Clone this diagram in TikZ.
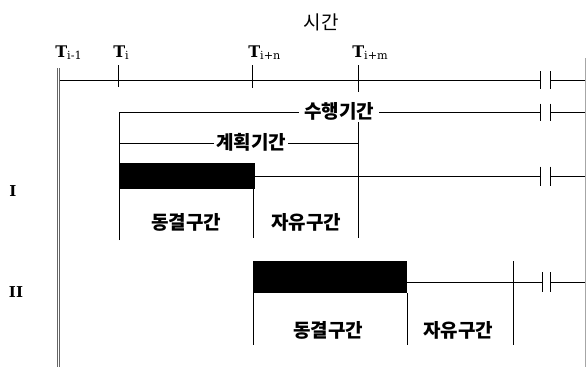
\documentclass[tikz,border=0pt]{standalone}
\usepackage{fontspec}
\newfontfamily\kr{Noto Sans CJK KR}
\newfontfamily\tser{DejaVu Serif}
\usetikzlibrary{positioning, calc}

\tikzset{
  kor/.style={font=\kr\bfseries\fontsize{19}{21}\selectfont, inner sep=1pt},
  gap/.style={inner xsep=5pt},
  tlab/.style={font=\tser\bfseries\fontsize{16}{18}\selectfont, inner sep=0pt, anchor=base west},
  rowlab/.style={font=\tser\bfseries\fontsize{15}{17}\selectfont, inner sep=0pt},
  thin line/.style={line width=0.6pt},
  brk/.style={line width=1pt}
}
\newcommand{\tsub}[1]{\textsubscript{\mdseries #1}}

\begin{document}
\begin{tikzpicture}[x=1pt, y=-1pt, thin line]
      \useasboundingbox (0, 0) rectangle (586, 367);

      % title and time points
      \node[kor, font=\kr\fontsize{19}{21}\selectfont] (title) at (321, 22) {시간};
      \node[tlab] (t0) at (55, 57) {T\tsub{i-1}};
      \node[tlab] (t1) at (113, 57) {T\tsub{i}};
      \node[tlab] (tn) at (248, 57) {T\tsub{i+n}};
      \node[tlab] (tm) at (352, 57) {T\tsub{i+m}};

      % left double line and right border
      \draw[gray!80!black] (57, 68) -- (57, 367);
      \draw[gray!80!black] (59.5, 68) -- (59.5, 367);
      \draw[gray!70, line width=0.4pt] (585, 58) -- (585, 367);

      % time axis
      \draw (59.5, 80) -- (540, 80);
      \draw (550, 80) -- (585, 80);
      \draw (118, 65) -- (118, 87);
      \draw (252, 65) -- (252, 88);
      \draw (358, 65) -- (358, 92);

      % breaks
      \foreach \y/\h in {80/9, 112/8.5, 176/9.5} {
        \draw[brk] (540, \y-\h) -- (540, \y+\h);
        \draw[brk] (550, \y-\h) -- (550, \y+\h);
      }
      \draw[brk] (542, 272) -- (542, 292);
      \draw[brk] (550, 272) -- (550, 292);

      % execution and planning periods
      \node[kor, gap] (run) at (339, 111) {수행기간};
      \draw (119, 240) -- (119, 112) -- (run.west |- 0, 112);
      \draw (run.east |- 0, 112) -- (540, 112);
      \draw (550, 112) -- (585, 112);
      \node[kor, inner xsep=2pt] (plan) at (251, 142) {계획기간};
      \draw (119, 143) -- (plan.west |- 0, 143);
      \draw (plan.east |- 0, 143) -- (358, 143);
      \draw (358, 122) -- (358, 238);

      % row I
      \node[rowlab] (r1) at (13, 191) {I};
      \fill (119, 163) rectangle (255, 189);
      \draw (255, 176) -- (540, 176);
      \draw (550, 176) -- (585, 176);
      \draw (253, 189) -- (253, 238);
      \node[kor] (f1) at (186, 222) {동결구간};
      \node[kor] (v1) at (306, 222) {자유구간};

      % row II
      \node[rowlab] (r2) at (16, 292) {II};
      \fill (253, 261) rectangle (407, 293);
      \draw (407, 282) -- (542, 282);
      \draw (550, 282) -- (585, 282);
      \draw (253, 293) -- (253, 345);
      \draw (407, 293) -- (407, 345);
      \draw (513, 261) -- (513, 345);
      \node[kor] (f2) at (328, 330) {동결구간};
      \node[kor] (v2) at (458, 330) {자유구간};

    \end{tikzpicture}
\end{document}
